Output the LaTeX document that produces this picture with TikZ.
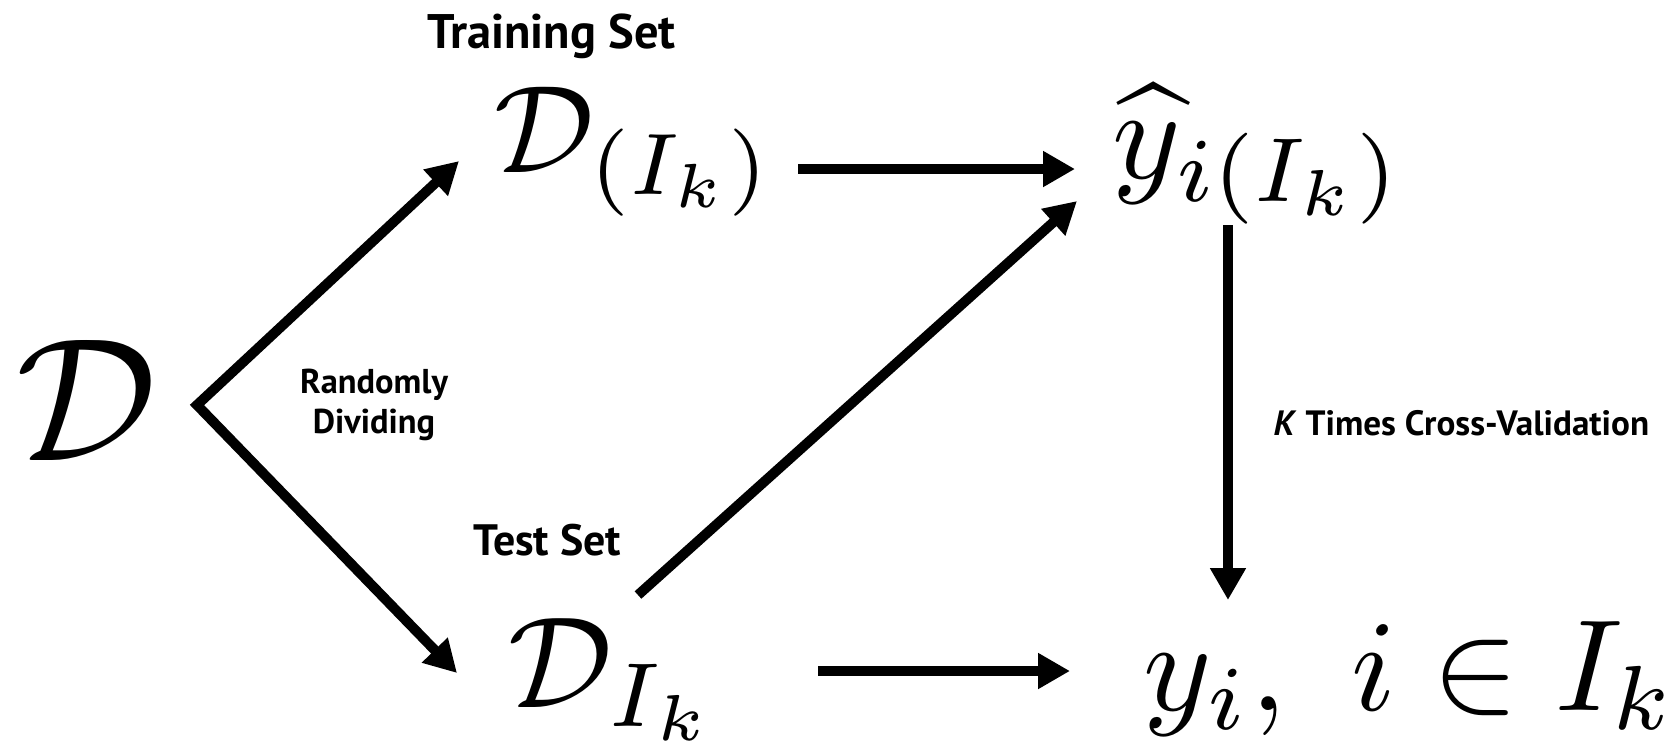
\RequirePackage{fix-cm}
\documentclass[tikz,border=0pt]{standalone}
\usepackage{fontspec}
\newfontfamily\labelfont{PT Sans}
\usetikzlibrary{arrows.meta}

\begin{document}
\begin{tikzpicture}[
    mathnode/.style={inner sep=0pt, anchor=base west},
    labelnode/.style={inner sep=0pt, font=\labelfont\bfseries},
    arr/.style={line width=1mm, -{Triangle[length=3.2mm,width=3.4mm]}}
]
    % Fix the page size
    \useasboundingbox (0,0) rectangle (16.70,-7.49);

    % Data sets and predictions
    \node[mathnode, scale=5.0] (Dall) at (0.13,-4.60) {$\mathcal{D}$};
    \node[mathnode, scale=3.55] (Dtrain) at (4.92,-1.72) {$\mathcal{D}_{(I_k)}$};
    \node[mathnode, scale=3.7] (Dtest) at (5.06,-7.07) {$\mathcal{D}_{I_k}$};
    \node[mathnode, scale=3.7] (yhat) at (11.10,-1.78) {$\widehat{y}_{i(I_k)}$};
    \node[mathnode, scale=3.7] (yobs) at (11.41,-7.10) {$y_i,\ i \in I_k$};

    % Labels
    \node[labelnode, anchor=base west, font=\labelfont\bfseries\fontsize{13.8}{17}\selectfont] (trainLabel) at (4.27,-0.48) {Training Set};
    \node[labelnode, anchor=base west, font=\labelfont\bfseries\fontsize{12.5}{15}\selectfont] (testLabel) at (4.73,-5.55) {Test Set};
    \node[labelnode, align=center, font=\labelfont\bfseries\fontsize{9.8}{11.6}\selectfont] (splitLabel) at (3.74,-4.05) {Randomly\\Dividing};
    \node[labelnode, anchor=base west, font=\labelfont\bfseries\fontsize{10}{12}\selectfont] (cvLabel) at (12.73,-4.35) {\textit{K} Times Cross-Validation};

    % Split into the two sets
    \coordinate (split) at (1.97,-4.05);
    \draw[line width=1mm, {Triangle[length=3.2mm,width=3.4mm]}-{Triangle[length=3.2mm,width=3.4mm]}]
        ([shift={(-0.33,0.11)}]Dtrain.base west) -- (split) -- ([shift={(-0.49,0.34)}]Dtest.base west);

    % Fit and predict
    \draw[arr] ([shift={(3.06,0.03)}]Dtrain.base west) -- ([shift={(-0.35,0.09)}]yhat.base west);
    \draw[arr] ([shift={(1.32,1.12)}]Dtest.base west) -- ([shift={(-0.33,-0.23)}]yhat.base west);
    \draw[arr] ([shift={(3.12,0.36)}]Dtest.base west) -- ([shift={(-0.71,0.39)}]yobs.base west);

    % Compare
    \draw[arr] ([shift={(1.18,-0.47)}]yhat.base west) -- ([shift={(0.87,1.10)}]yobs.base west);

\end{tikzpicture}
\end{document}
